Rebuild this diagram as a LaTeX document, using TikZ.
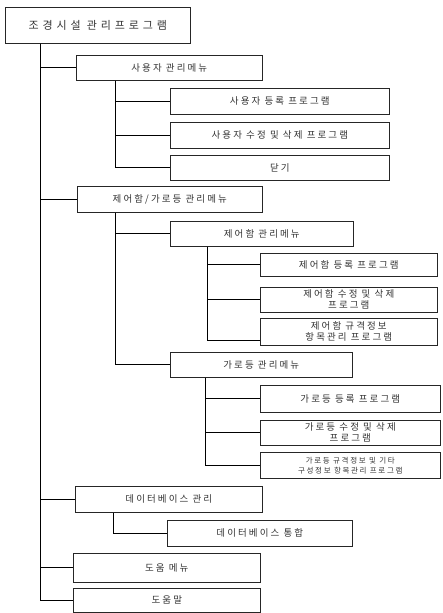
\documentclass[tikz,border=0pt]{standalone}
\usepackage{fontspec}
\setmainfont{Noto Sans CJK KR}
\newfontfamily\kr[LetterSpace=22]{Noto Sans CJK KR}
\newfontfamily\krwide[LetterSpace=35]{Noto Sans CJK KR}
\begin{document}
\begin{tikzpicture}[x=1pt,y=-1pt,
  box/.style={draw=black!85, line width=0.6pt, anchor=north west, inner sep=0pt,
    align=center, text=black!80, font=\kr\fontsize{9.5}{11}\selectfont},
  small/.style={font=\kr\fontsize{7.5}{10}\selectfont},
  ln/.style={draw=black, line width=0.8pt}]
\useasboundingbox (0,0) rectangle (442,613);
\node[box, minimum width=185pt, minimum height=36pt, font=\krwide\fontsize{11}{13}\selectfont] (root) at (5,7) {조경시설 관리프로그램};
\node[box, minimum width=186pt, minimum height=25pt] (u) at (76,55) {사용자 관리메뉴};
\node[box, minimum width=219pt, minimum height=26pt] (u1) at (170,88) {사용자 등록 프로그램};
\node[box, minimum width=219pt, minimum height=26pt] (u2) at (170,122) {사용자 수정 및 삭제 프로그램};
\node[box, minimum width=219pt, minimum height=25pt] (u3) at (170,155) {닫기};
\node[box, minimum width=185pt, minimum height=26pt] (c) at (77,186) {제어함/가로등 관리메뉴};
\node[box, minimum width=183pt, minimum height=25pt] (c1) at (170,221) {제어함 관리메뉴};
\node[box, minimum width=177pt, minimum height=23pt] (c11) at (260,253) {제어함 등록 프로그램};
\node[box, minimum width=177pt, minimum height=25pt] (c12) at (260,287) {제어함 수정 및 삭제\\프로그램};
\node[box, minimum width=177pt, minimum height=27pt] (c13) at (260,318) {제어함 규격정보\\항목관리 프로그램};
\node[box, minimum width=182pt, minimum height=25pt] (c2) at (170,352) {가로등 관리메뉴};
\node[box, minimum width=180pt, minimum height=27pt] (c21) at (260,385) {가로등 등록 프로그램};
\node[box, minimum width=180pt, minimum height=25pt] (c22) at (260,420) {가로등 수정 및 삭제\\프로그램};
\node[box, small, minimum width=180pt, minimum height=26pt] (c23) at (260,452) {가로등 규격정보 및 기타\\구성정보 항목관리 프로그램};
\node[box, minimum width=187pt, minimum height=26pt] (d) at (75,486) {데이터베이스 관리};
\node[box, minimum width=185pt, minimum height=26pt] (d1) at (167,520) {데이터베이스 통합};
\node[box, minimum width=187pt, minimum height=29pt] (h) at (73,553) {도움 메뉴};
\node[box, minimum width=187pt, minimum height=24pt] (e) at (73,588) {도움말};
\coordinate (t0) at ([xshift=35pt]root.south west);
\coordinate (tu) at ([xshift=39pt]u.south west);
\coordinate (tc) at ([xshift=38pt]c.south west);
\coordinate (tc1) at ([xshift=37pt]c1.south west);
\coordinate (tc2) at ([xshift=35pt]c2.south west);
\coordinate (td) at ([xshift=38pt]d.south west);
\foreach \n in {u,c,d,h,e} \draw[ln] (t0) |- (\n.west);
\foreach \n in {u1,u2,u3} \draw[ln] (tu) |- (\n.west);
\foreach \n in {c1,c2} \draw[ln] (tc) |- (\n.west);
\foreach \n in {c11,c12} \draw[ln] (tc1) |- (\n.west);
\draw[ln] (tc1) |- ([yshift=-9pt]c13.west);
\foreach \n in {c21,c22,c23} \draw[ln] (tc2) |- (\n.west);
\draw[ln] (td) |- (d1.west);
\end{tikzpicture}
\end{document}
